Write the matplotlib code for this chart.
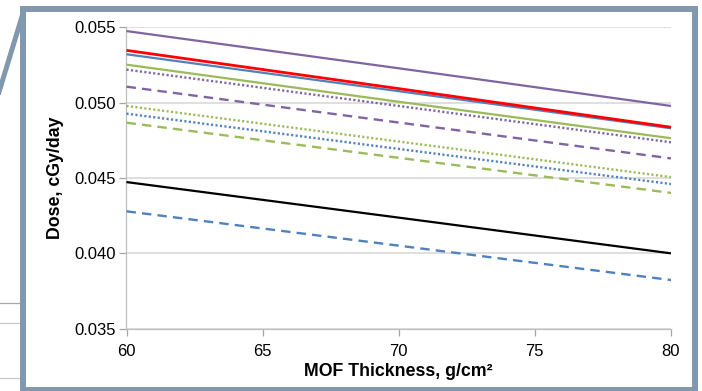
import matplotlib
matplotlib.use("Agg")
import matplotlib.pyplot as plt
from matplotlib.patches import Rectangle
from matplotlib.lines import Line2D

plt.rcParams['font.family'] = ['Liberation Sans', 'DejaVu Sans']

# MOF shielding thickness (g/cm^2)
thickness = [60, 70, 80]

# Dose rate (cGy/day) for each configuration
purple_solid = [0.05475, 0.05228, 0.04978]
red_solid = [0.05347, 0.05093, 0.04837]
blue_solid = [0.05321, 0.05076, 0.04830]
green_solid = [0.05252, 0.05006, 0.04764]
purple_dotted = [0.05219, 0.04978, 0.04737]
purple_dashed = [0.05106, 0.04868, 0.04630]
green_dotted = [0.04978, 0.04742, 0.04506]
blue_dotted = [0.04927, 0.04693, 0.04460]
green_dashed = [0.04867, 0.04634, 0.04401]
black_solid = [0.04473, 0.04237, 0.04000]
blue_dashed = [0.04279, 0.04051, 0.03823]

x_ticks = [60, 65, 70, 75, 80]
y_ticks = [0.035, 0.040, 0.045, 0.050, 0.055]
y_ticklabels = ["0.035", "0.040", "0.045", "0.050", "0.055"]

PURPLE = '#8064a2'
RED = '#ff0000'
BLUE = '#4f81bd'
GREEN = '#9bbb59'
BLACK = '#000000'
FRAME = '#8198ae'

W, H = 702, 391
fig = plt.figure(figsize=(W / 100, H / 100), dpi=100)

ax = fig.add_axes([126.5 / W, 1 - 328.7 / H, (671 - 126.5) / W, (328.7 - 27.3) / H])

dot = (0, (0.9, 1.0))
dash = (0, (4.0, 2.6))

series = [
    (purple_solid, PURPLE, '-', 1.6),
    (blue_solid, BLUE, '-', 1.6),
    (red_solid, RED, '-', 2.0),
    (green_solid, GREEN, '-', 1.6),
    (purple_dotted, PURPLE, dot, 1.7),
    (purple_dashed, PURPLE, dash, 1.7),
    (green_dotted, GREEN, dot, 1.7),
    (blue_dotted, BLUE, dot, 1.7),
    (green_dashed, GREEN, dash, 1.7),
    (black_solid, BLACK, '-', 1.6),
    (blue_dashed, BLUE, dash, 1.7),
]
for vals, col, ls, lw in series:
    ax.plot(thickness, vals, color=col, linestyle=ls, linewidth=lw,
            dash_capstyle='butt', solid_capstyle='butt', zorder=3)

ax.set_xlim(60, 80)
ax.set_ylim(0.035, 0.055)
ax.set_xticks(x_ticks)
ax.set_yticks(y_ticks)
ax.set_yticklabels(y_ticklabels)
ax.tick_params(axis='both', labelsize=12, colors='#a6a6a6', labelcolor='black',
               length=5, width=0.9, direction='out')
ax.tick_params(axis='x', pad=6)
ax.tick_params(axis='y', pad=3)
ax.grid(axis='y', color='#d9d9d9', linewidth=1.2, zorder=0)
ax.set_axisbelow(True)
for side in ('top', 'right'):
    ax.spines[side].set_visible(False)
for side in ('left', 'bottom'):
    ax.spines[side].set_color('#bfbfbf')
    ax.spines[side].set_linewidth(0.9)

ax.set_xlabel('MOF Thickness, g/cm\u00b2', fontsize=12.8, fontweight='bold', labelpad=3)
ax.set_ylabel('Dose, cGy/day', fontsize=12.8, fontweight='bold', labelpad=7)

# Zoom frame and connector of the enlarged inset
def fx(px):
    return px / W

def fy(py):
    return 1 - py / H

frame = Rectangle((fx(23.3), fy(389.5)), fx(695.3) - fx(23.3), fy(8.7) - fy(389.5),
                  transform=fig.transFigure, fill=False, edgecolor=FRAME,
                  linewidth=4.3, zorder=10)
fig.add_artist(frame)
fig.add_artist(Line2D([fx(-1), fx(24)], [fy(92), fy(10)], transform=fig.transFigure,
                      color=FRAME, linewidth=3.6, zorder=10))

# Gridline fragments of the underlying chart
for py, c in [(302.5, '#a6a6a6'), (323, '#c8c8c8'), (378.3, '#c8c8c8')]:
    fig.add_artist(Line2D([fx(0), fx(21)], [fy(py), fy(py)], transform=fig.transFigure,
                          color=c, linewidth=0.9, zorder=5))

fig.savefig('out.png', dpi=100)
